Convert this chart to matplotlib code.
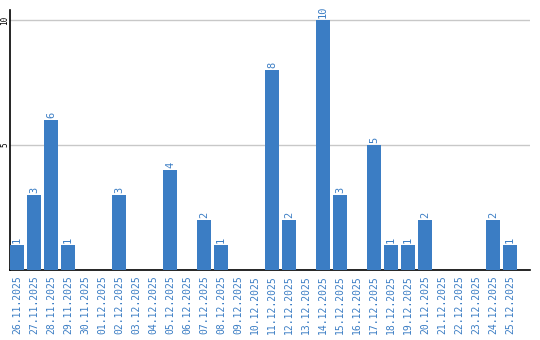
import matplotlib
matplotlib.use("Agg")
import matplotlib.pyplot as plt

# Daten
datum = ["26.11.2025", "27.11.2025", "28.11.2025", "29.11.2025", "30.11.2025",
         "01.12.2025", "02.12.2025", "03.12.2025", "04.12.2025", "05.12.2025",
         "06.12.2025", "07.12.2025", "08.12.2025", "09.12.2025", "10.12.2025",
         "11.12.2025", "12.12.2025", "13.12.2025", "14.12.2025", "15.12.2025",
         "16.12.2025", "17.12.2025", "18.12.2025", "19.12.2025", "20.12.2025",
         "21.12.2025", "22.12.2025", "23.12.2025", "24.12.2025", "25.12.2025"]
anzahl = [1, 3, 6, 1, 0, 0, 3, 0, 0, 4, 0, 2, 1, 0, 0,
          8, 2, 0, 10, 3, 0, 5, 1, 1, 2, 0, 0, 0, 2, 1]
y_ticks = [5, 10]

blau = "#3b7dc4"

fig = plt.figure(figsize=(5.4, 3.4), dpi=100)
ax = fig.add_axes([10 / 540, 70 / 340, 520 / 540, 260 / 340])

x = list(range(len(datum)))
ax.bar(x, anzahl, width=0.82, color=blau, zorder=3)

# Werte ueber den Balken
for xi, v in zip(x, anzahl):
    if v > 0:
        ax.text(xi, v + 0.08, str(v), rotation=90, ha="center", va="bottom",
                color=blau, fontsize=7.5, family="DejaVu Sans Mono")

ax.set_xlim(-0.41, 30.18)
ax.set_ylim(0, 10.4)
ax.set_xticks(x)
ax.set_xticklabels(datum, rotation=90, color=blau, fontsize=7,
                   family="DejaVu Sans Mono")
ax.set_yticks(y_ticks)
ax.set_yticklabels([str(t) for t in y_ticks], rotation=90, fontsize=5.5,
                   family="DejaVu Sans Mono", va="center")
ax.tick_params(axis="both", length=0)
ax.tick_params(axis="x", pad=4)
ax.tick_params(axis="y", pad=0.6)

ax.grid(axis="y", color="#c8c8c8", linewidth=1, zorder=0)
ax.spines["top"].set_visible(False)
ax.spines["right"].set_visible(False)
ax.spines["left"].set_linewidth(1.2)
ax.spines["bottom"].set_linewidth(1.2)

fig.savefig("out.png", dpi=100)
